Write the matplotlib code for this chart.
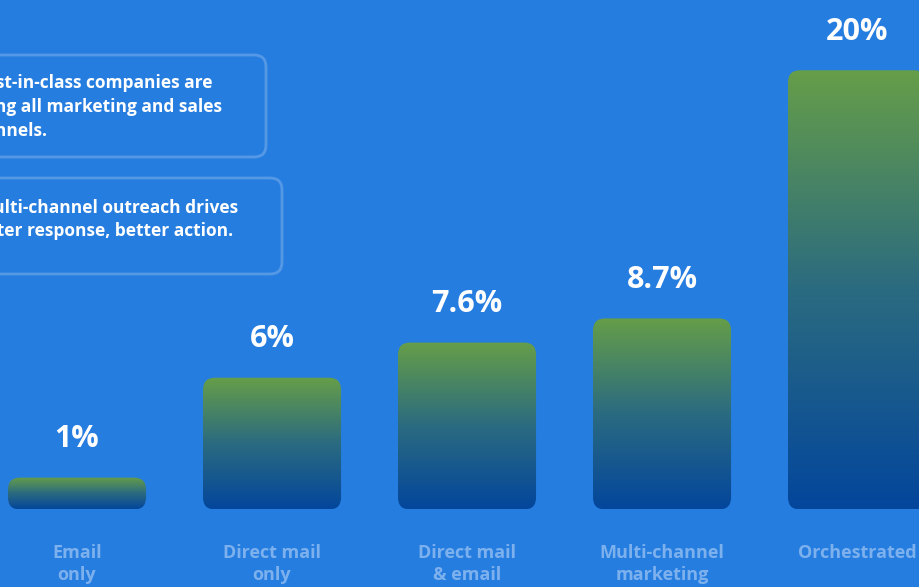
import numpy as np
import matplotlib
matplotlib.use("Agg")
import matplotlib.pyplot as plt
from matplotlib.patches import FancyBboxPatch
from matplotlib.colors import LinearSegmentedColormap

# data
categories = ["Email\nonly", "Direct mail\nonly", "Direct mail\n& email",
              "Multi-channel\nmarketing", "Orchestrated"]
values = [1, 6, 7.6, 8.7, 20]
value_labels = ["1%", "6%", "7.6%", "8.7%", "20%"]

box1_lines = ["Best-in-class companies are",
              "orchestrating all marketing and sales",
              "channels."]
box2_lines = ["Multi-channel outreach drives",
              "better response, better action."]

bg = "#267DE0"
plt.rcParams['font.family'] = ['Open Sans', 'DejaVu Sans']

fig = plt.figure(figsize=(9.2, 5.87), dpi=100)
fig.patch.set_facecolor(bg)

# bar axes, one unit in x = one category slot
ax = fig.add_axes([0, 0, 1, 1])
ax.set_facecolor(bg)
ax.set_xlim(-0.395, 4.323)
ax.set_ylim(-3.53, 23.2)
ax.axis("off")

cmap = LinearSegmentedColormap.from_list("g", ["#03469C", "#2B6B80", "#669E48"])
grad = np.linspace(0, 1, 256).reshape(-1, 1)

width = 0.708
rx = 12 / 195.0      # corner radius in x units
ry = 12 / 21.8       # corner radius in y units
shown = np.maximum(values, 1.45)   # keep the tiny bar visible

for i, (v, h) in enumerate(zip(values, shown)):
    x0 = i - width / 2
    patch = FancyBboxPatch((x0, 0), width, h,
                           boxstyle="round,pad=0,rounding_size=%f" % rx,
                           mutation_aspect=ry / rx,
                           facecolor="none", edgecolor="none")
    ax.add_patch(patch)
    im = ax.imshow(grad, extent=(x0, x0 + width, 0, h), origin="lower",
                   cmap=cmap, aspect="auto", zorder=2)
    im.set_clip_path(patch)
    ax.annotate(value_labels[i], (i, h), xytext=(0, 22), textcoords="offset points",
                ha="center", va="baseline", color="white", fontsize=22,
                fontweight="bold")
    ax.text(i, -1.55, categories[i], ha="center", va="top", color="#7DB1EE",
            fontsize=13, fontweight="bold", linespacing=1.3)

# note boxes, pixel coordinates
ax2 = fig.add_axes([0, 0, 1, 1])
ax2.set_xlim(0, 920)
ax2.set_ylim(587, 0)
ax2.axis("off")
ax2.patch.set_alpha(0)

for (x0, y0, x1, y1) in [(-60, 55, 266, 157), (-60, 178, 282, 274)]:
    ax2.add_patch(FancyBboxPatch((x0, y0), x1 - x0, y1 - y0,
                                 boxstyle="round,pad=0,rounding_size=12",
                                 facecolor="none", edgecolor=(1, 1, 1, 0.22),
                                 linewidth=2))

for txt, xr, yb in zip(box1_lines, [213, 222, 47], [88, 112, 136]):
    ax2.text(xr, yb, txt, ha="right", va="baseline", color="white",
             fontsize=12.5, fontweight="bold")
for txt, xr, yb in zip(box2_lines, [238, 233], [213, 236]):
    ax2.text(xr, yb, txt, ha="right", va="baseline", color="white",
             fontsize=12.5, fontweight="bold")

fig.savefig("out.png", dpi=100, facecolor=bg)
